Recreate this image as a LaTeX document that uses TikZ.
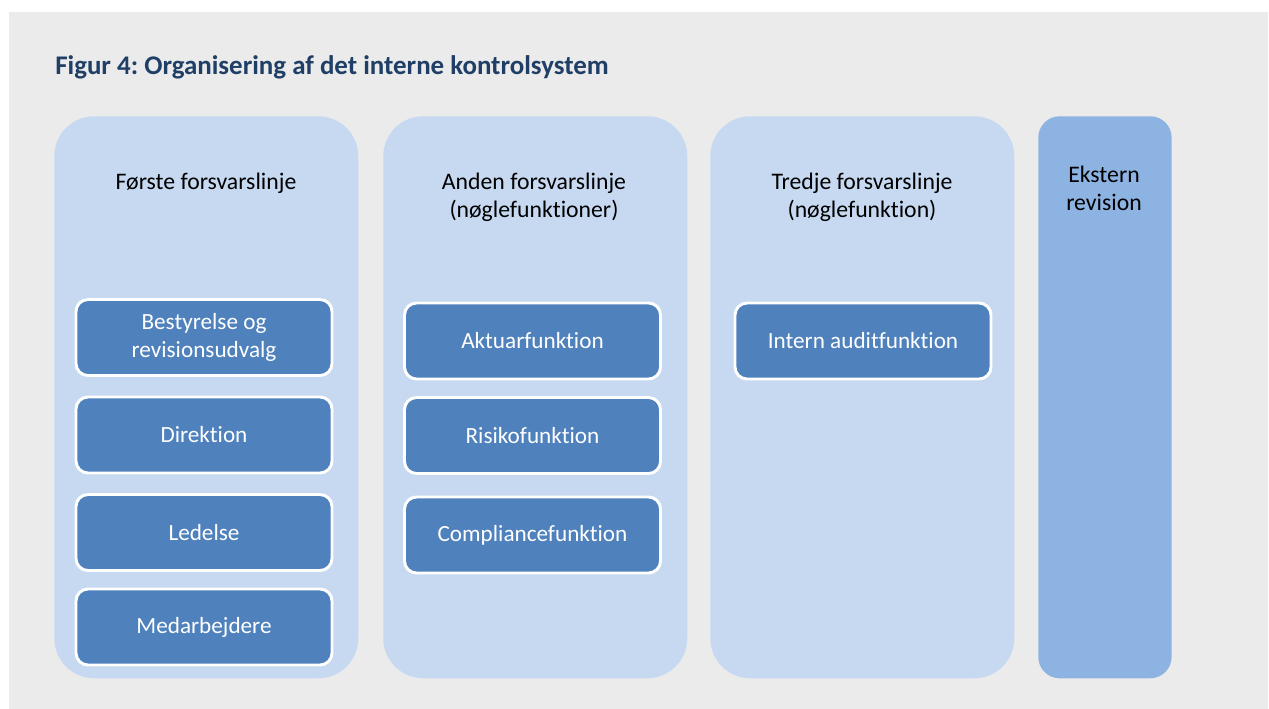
\documentclass[tikz,border=0pt]{standalone}
\usepackage{fontspec}
\setmainfont[Ligatures={NoCommon}]{Carlito}
\usetikzlibrary{positioning}
\definecolor{bggrey}{HTML}{EBEBEB}
\definecolor{linefill}{HTML}{C6D9F1}
\definecolor{extfill}{HTML}{8DB3E2}
\definecolor{boxfill}{HTML}{4F81BD}
\definecolor{titleblue}{HTML}{1F3F66}
\frenchspacing

\begin{document}
\begin{tikzpicture}[x=0.75pt,y=-0.75pt,
    column/.style={fill=linefill,rounded corners=30pt,anchor=north west,
        minimum width=228pt,minimum height=421.5pt,inner sep=0pt},
    extcol/.style={fill=extfill,rounded corners=16pt,anchor=north west,
        minimum width=100pt,minimum height=421.5pt,inner sep=0pt},
    head/.style={align=center,font=\fontsize{17.8}{21}\selectfont,text=black},
    unit/.style={fill=boxfill,draw=white,line width=2.2pt,rounded corners=9pt,
        minimum width=192pt,minimum height=57pt,align=center,text=white,
        font=\fontsize{17.4}{21}\selectfont}]
    \useasboundingbox (0,0) rectangle (1269,709);
    \fill[bggrey] (9,12) rectangle (1268,709);
    \node[anchor=base west,text=titleblue,font=\bfseries\fontsize{20.2}{24}\selectfont,inner sep=0pt]
        (title) at (55,75) {Figur 4: Organisering af det interne kontrolsystem};
    % de tre forsvarslinjer og ekstern revision
    \node[column] (first) at (54,116) {};
    \node[column] (second) at (383,116) {};
    \node[column] (third) at (710,116) {};
    \node[extcol] (ext) at (1038,116) {};
    \node[head] (firsthead) at (206,183) {Første forsvarslinje};
    \node[head] (secondhead) at (534,197) {Anden forsvarslinje\\(nøglefunktioner)};
    \node[head] (thirdhead) at (862,197) {Tredje forsvarslinje\\(nøglefunktion)};
    \node[head] (exthead) at (1104,188) {Ekstern\\revision};
    % funktioner
    \node[unit] (board) at (204,337.5) {Bestyrelse og\\revisionsudvalg};
    \node[unit] (mgmt) at (204,435) {Direktion};
    \node[unit] (lead) at (204,532.5) {Ledelse};
    \node[unit] (staff) at (204,627) {Medarbejdere};
    \node[unit] (actuary) at (532.5,341) {Aktuarfunktion};
    \node[unit] (risk) at (532.5,435.5) {Risikofunktion};
    \node[unit] (compl) at (532.5,535) {Compliancefunktion};
    \node[unit] (audit) at (863,341) {Intern auditfunktion};
\end{tikzpicture}
\end{document}
